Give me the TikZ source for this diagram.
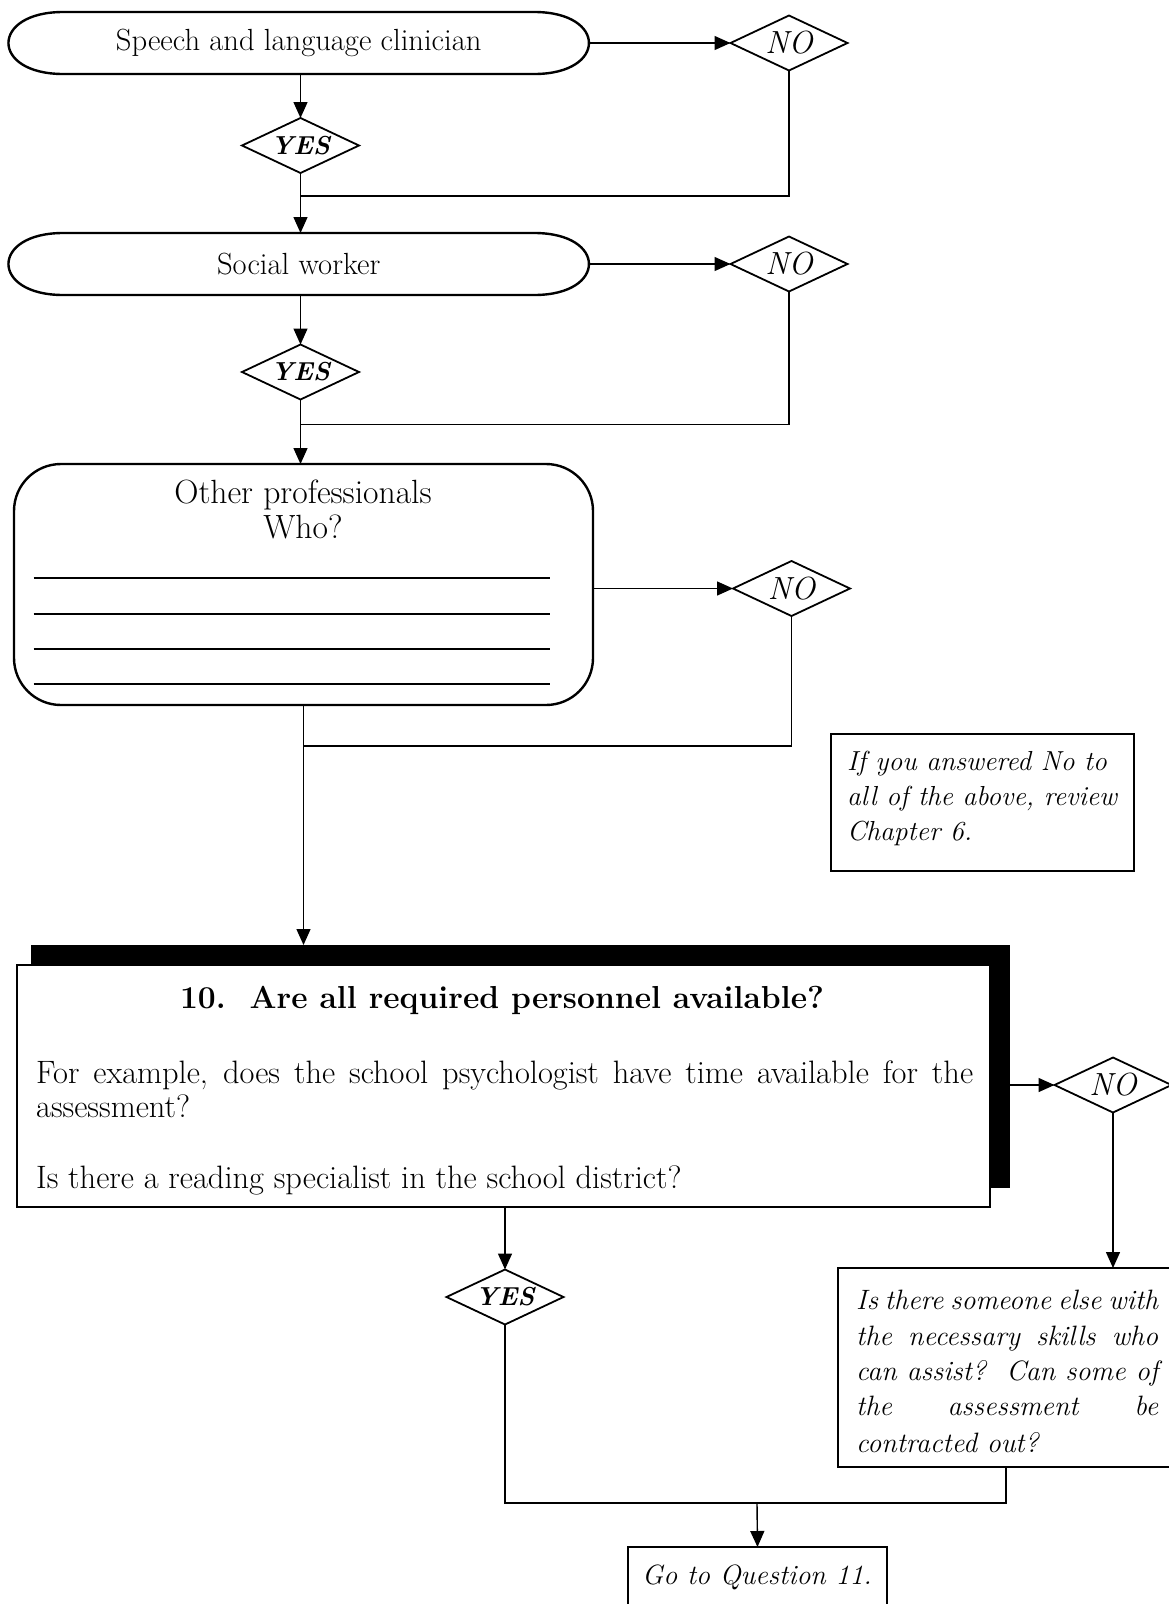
\documentclass[tikz,border=0pt]{standalone}
\usetikzlibrary{shapes.geometric,arrows.meta,calc}
\newcommand\fsz[1]{\fontsize{#1}{#1}\selectfont}
% outline of a pill-shaped node with flattened elliptic ends
\newcommand\pilloutline[1]{%
  \draw[line width=2.4pt] ($(#1.north west)+(55,0)$) -- ($(#1.north east)+(-55,0)$)
    .. controls ($(#1.north east)+(18,0)$) and ($(#1.south east)+(18,0)$) .. ($(#1.south east)+(-55,0)$)
    -- ($(#1.south west)+(55,0)$)
    .. controls ($(#1.south west)+(-18,0)$) and ($(#1.north west)+(-18,0)$) .. cycle;}
\begin{document}
\begin{tikzpicture}[x=1pt,y=-1pt,
  conn/.style={line width=1.4pt},
  arr/.style={conn,-{Triangle[length=16pt,width=14pt]}},
  pill/.style={rectangle,inner sep=0pt,outer sep=0pt,minimum width=581pt,minimum height=62pt,font=\fsz{30.6}},
  dia/.style={draw,diamond,aspect=2.13,inner sep=0pt,outer sep=0pt,minimum width=117pt,minimum height=55pt,line width=1.8pt},
  nolab/.style={dia,font=\itshape\fsz{32}},
  yeslab/.style={dia,font=\bfseries\itshape\fsz{26}},
  frame/.style={draw,rectangle,inner sep=0pt,outer sep=0pt,line width=2.2pt,fill=white},
  body/.style={inner sep=0pt,anchor=base west,font=\fsz{32.4}},
  itbody/.style={inner sep=0pt,anchor=base west,font=\itshape\fsz{28}},
  notebody/.style={inner sep=0pt,anchor=base west,font=\itshape\fsz{27.5}}
]
\useasboundingbox (0,0) rectangle (1169,1604);
\fill[white] (0,0) rectangle (1169,1604);
\clip (0,0) rectangle (1169,1604);

% ---- first professional
\node[pill] (pill1) at (298.7,43) {Speech and language clinician};
\pilloutline{pill1}
\node[nolab] (no1) at (789,43) {NO};
\node[yeslab] (yes1) at (300.5,145.5) {YES};
\coordinate (j1) at (300.5,196);
\draw[arr] (pill1.east) -- (no1.west);
\draw[arr] (pill1.south -| yes1) -- (yes1.north);
\draw[conn] (no1.south) |- (j1);

% ---- second professional
\node[pill] (pill2) at (298.7,264) {Social worker};
\pilloutline{pill2}
\draw[arr] (yes1.south) -- (yes1.south |- pill2.north);
\node[nolab] (no2) at (789,264) {NO};
\node[yeslab] (yes2) at (300.5,372) {YES};
\coordinate (j2) at (300.5,424.5);
\draw[arr] (pill2.east) -- (no2.west);
\draw[arr] (pill2.south -| yes2) -- (yes2.north);
\draw[conn] (no2.south) |- (j2);

% ---- other professionals
\node[draw,rectangle,rounded corners=47pt,line width=2.4pt,minimum width=579pt,minimum height=241pt,inner sep=0pt,outer sep=0pt] (box3) at (303.5,584.5) {};
\draw[arr] (yes2.south) -- (yes2.south |- box3.north);
\node[inner sep=0pt,anchor=base,font=\fsz{33.6}] (op1) at (303,503) {Other professionals};
\node[inner sep=0pt,anchor=base,font=\fsz{33.6}] (op2) at (303,538) {Who?};
\foreach \yy in {578,614,649,684}
  \draw[line width=1.3pt] (33.6,\yy) -- (550,\yy);
\node[nolab] (no3) at (791.5,588.5) {NO};
\draw[arr] (box3.east |- no3.west) -- (no3.west);
\coordinate (j3) at (303.5,746);
\draw[conn] (no3.south) |- (j3);

% ---- reminder note
\node[frame,minimum width=303pt,minimum height=137pt] (note) at (982.5,802.5) {};
\node[notebody] (n1) at (847,770) {If you answered No to};
\node[notebody] (n2) at (847,805) {all of the above, review};
\node[notebody] (n3) at (847,840) {Chapter 6.};

% ---- question 10
\node[rectangle,fill=black,inner sep=0pt,outer sep=0pt,minimum width=979pt,minimum height=243pt] (sh10) at (520.5,1066.5) {};
\node[frame,line width=2.4pt,minimum width=973pt,minimum height=242pt] (box10) at (503.5,1086) {};
\draw[arr] (box3.south) -- (box3.south |- sh10.north);
\node[inner sep=0pt,anchor=base,font=\bfseries\fsz{31.8}] (q10) at (502,1008) {10.\ \ Are all required personnel available?};
\node[body] (q10a) at (36,1083) {\makebox[937pt][s]{For example, does the school psychologist have time available for the}};
\node[body] (q10b) at (36,1117) {assessment?};
\node[body] (q10c) at (36,1188) {Is there a reading specialist in the school district?};

\node[nolab] (no4) at (1113,1085) {NO};
\draw[arr] (sh10.east |- no4.west) -- (no4.west);

\node[frame,minimum width=336pt,minimum height=199pt] (rbox) at (1006,1367.5) {};
\draw[arr] (no4.south) -- (no4.south |- rbox.north);
\node[itbody] (r1) at (856,1309) {\makebox[302pt][s]{Is there someone else with}};
\node[itbody] (r2) at (856,1345) {\makebox[302pt][s]{the necessary skills who}};
\node[itbody] (r3) at (856,1380) {\makebox[302pt][s]{can assist?\ \ Can some of}};
\node[itbody] (r4) at (856,1415) {\makebox[302pt][s]{the assessment be}};
\node[itbody] (r5) at (856,1452) {contracted out?};

\node[yeslab] (yes3) at (505,1297) {YES};
\draw[arr] (yes3.north |- box10.south) -- (yes3.north);

% ---- merge and exit
\coordinate (j4) at (757,1503);
\draw[conn] (yes3.south) |- (j4) -| (rbox.south);
\node[frame,minimum width=259pt,minimum height=73pt] (go) at (757.5,1583.5) {};
\node[inner sep=0pt,anchor=base,font=\itshape\fsz{27.9}] (gotxt) at (757,1584) {Go to Question 11.};
\draw[arr] (j4) -- (go.north);
\end{tikzpicture}
\end{document}
